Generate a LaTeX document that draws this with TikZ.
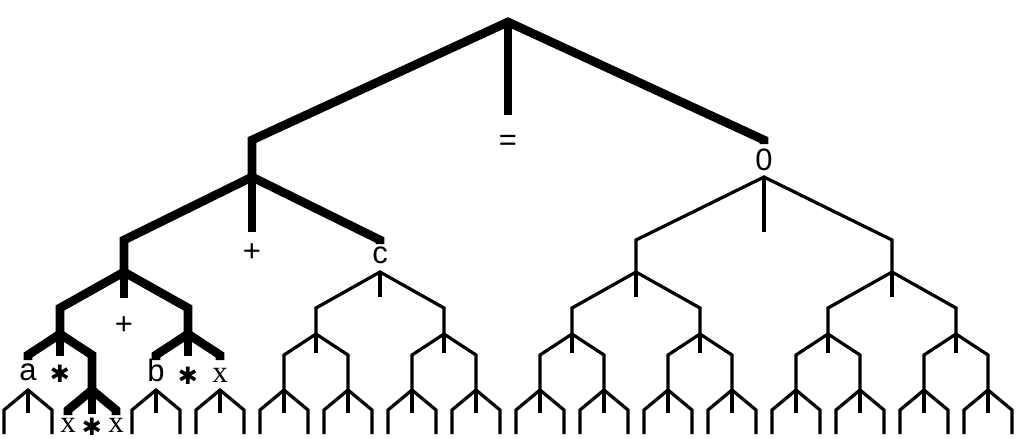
\documentclass[tikz,border=0pt]{standalone}
\usepackage{fontspec}
\setmainfont{Liberation Serif}
\setsansfont{Liberation Sans}
\newfontfamily\dingfont{DejaVu Sans}
\usepackage{tikz}
\usetikzlibrary{calc}

\begin{document}
\begin{tikzpicture}[x=0.025cm, y=-0.025cm,
    thinleg/.style={line width=2.3pt},
    thickleg/.style={line width=6.2pt},
    lbl/.style={anchor=base, inner sep=0pt, font=\sffamily\fontsize{22}{22}\selectfont},
    var/.style={anchor=base, inner sep=0pt, font=\rmfamily\fontsize{22}{22}\selectfont},
    opstar/.style={anchor=center, inner sep=0pt, font=\dingfont\fontsize{17}{17}\selectfont}]

  \useasboundingbox (0,0) rectangle (1024,442);

%forks and knees
    \coordinate (n0-0) at (508,22);
    \foreach \lev/\yf/\yk/\s/\o in {1/177/140/512/252, 2/272/240/256/124, 3/334/308/128/60, 4/390/355/64/28} {
      \pgfmathtruncatemacro\kmax{2^\lev-1}
      \foreach \k in {0,...,\kmax} {
         \coordinate (n\lev-\k) at (\o+\s*\k,\yf);
         \coordinate (d\lev-\k) at (\o+\s*\k,\yk);
      }
    }
    \foreach \k in {0,...,15} {
      \pgfmathtruncatemacro\kl{2*\k}
      \pgfmathtruncatemacro\kr{2*\k+1}
         \coordinate (n5-\kl) at (4+64*\k,434);
         \coordinate (d5-\kl) at (4+64*\k,410);
         \coordinate (n5-\kr) at (52+64*\k,434);
         \coordinate (d5-\kr) at (52+64*\k,410);
    }

%thin
    \foreach \lev/\m/\ks in {1/55/{1}, 2/25/{1,2,3}, 3/19/{2,3,4,5,6,7}, 4/23/{0,2,3,4,5,6,7,8,9,10,11,12,13,14,15}} {
      \pgfmathtruncatemacro\nxt{\lev+1}
      \foreach \k in \ks {
         \pgfmathtruncatemacro\kl{2*\k}
         \pgfmathtruncatemacro\kr{2*\k+1}
         \draw[thinleg] (n\nxt-\kl) -- (d\nxt-\kl) -- (n\lev-\k) -- (d\nxt-\kr) -- (n\nxt-\kr);
         \draw[thinleg] (n\lev-\k) -- ++(0,\m);
      }
    }

%=
    \draw[thickleg] (n1-0) -- (d1-0) -- (n0-0) -- (d1-1) -- ++(0,4);
    \draw[thickleg] (n0-0) -- ++(0,93);
%+
    \draw[thickleg] (n2-0) -- (d2-0) -- (n1-0) -- (d2-1) -- ++(0,4);
    \draw[thickleg] (n1-0) -- ++(0,55);
%+
    \draw[thickleg] (n3-0) -- (d3-0) -- (n2-0) -- (d3-1) -- (n3-1);
    \draw[thickleg] (n2-0) -- ++(0,26);
%*
    \draw[thickleg] (d4-0) ++(0,5) -- (d4-0) -- (n3-0) -- (d4-1) -- (n4-1);
    \draw[thickleg] (n3-0) -- ++(0,22);
    \draw[thickleg] (d4-2) ++(0,5) -- (d4-2) -- (n3-1) -- (d4-3) -- ++(0,5);
    \draw[thickleg] (n3-1) -- ++(0,22);
    \draw[thickleg] (d5-2) ++(0,5) -- (d5-2) -- (n4-1) -- (d5-3) -- ++(0,5);
    \draw[thickleg] (n4-1) -- ++(0,24);

%labels
    \foreach \src/\dy/\txt/\name in {n0-0/128/{=}/eq, d1-1/30/0/zero, n1-0/84/+/plusa, d2-1/23/c/cee, n2-0/62/+/plusb, d4-0/25/a/aa, d4-2/26/b/bee} {
         \node[lbl] (\name) at ($(\src)+(0,\dy)$) {\txt};
    }
    \foreach \src/\dy/\name in {d4-3/27/xa, d5-2/22/xb, d5-3/22/xc} {
         \node[var] (\name) at ($(\src)+(0,\dy)$) {x};
    }
    \foreach \src/\dy/\name in {n3-0/40/stara, n3-1/42/starb, n4-1/37/starc} {
         \node[opstar] (\name) at ($(\src)+(0,\dy)$) {✱};
    }

\end{tikzpicture}
\end{document}
